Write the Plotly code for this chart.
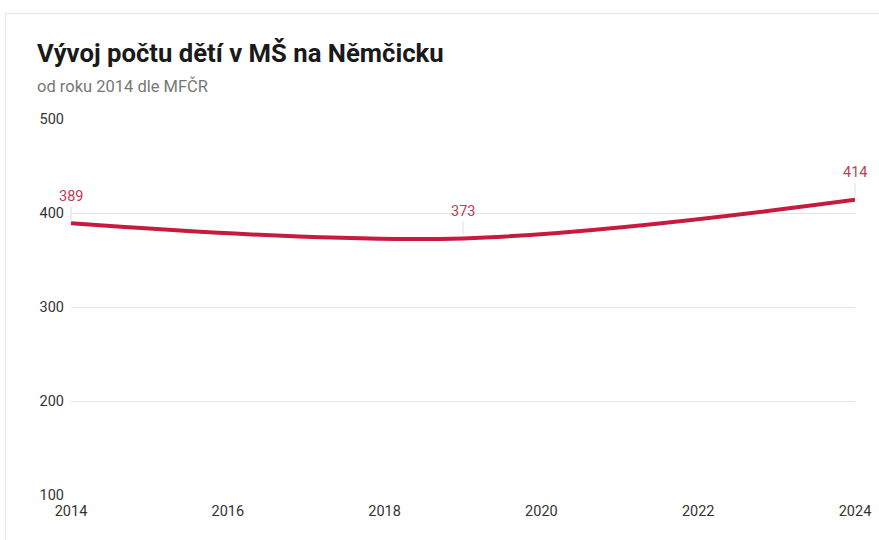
import plotly.graph_objects as go

years = [2014, 2019, 2024]
children = [389, 373, 414]
x_ticks = [2014, 2016, 2018, 2020, 2022, 2024]
y_ticks = [100, 200, 300, 400, 500]

title_text = "Vývoj počtu dětí v MŠ na Němčicku"
subtitle_text = "od roku 2014 dle MFČR"

LINE = "#c8193f"
LABEL = "#c43a57"
FONT = "Roboto, 'Noto Sans', sans-serif"

# plot area in page pixels: x 71..855, y 119..495
W, H = 879, 540
L, R, T, B = 71, 855, 119, 495

fig = go.Figure()
fig.add_trace(go.Scatter(
    x=years, y=children, mode="lines",
    line=dict(color=LINE, width=4, shape="spline", smoothing=1.0),
    hoverinfo="skip", showlegend=False,
))

for xv, yv in zip(years, children):
    fig.add_annotation(
        x=xv, y=yv, xref="x", yref="y", text=str(yv),
        showarrow=True, arrowhead=0, arrowwidth=1, arrowcolor="#dddddd",
        ax=0, ay=-27, standoff=3,
        font=dict(family=FONT, size=14.5, color=LABEL),
    )

def px_x(p):
    return (p - L) / float(R - L)

def px_y(p):
    return (B - p) / float(B - T)

fig.add_annotation(
    xref="paper", yref="paper", x=px_x(35), y=px_y(53), xanchor="left", yanchor="middle",
    text="<b>" + title_text + "</b>", showarrow=False,
    font=dict(family=FONT, size=25.7, color="#1a1a1a"),
)
fig.add_annotation(
    xref="paper", yref="paper", x=px_x(35), y=px_y(86), xanchor="left", yanchor="middle",
    text=subtitle_text, showarrow=False,
    font=dict(family=FONT, size=16.5, color="#777777"),
)

fig.add_shape(
    type="rect", xref="paper", yref="paper",
    x0=px_x(5.5), x1=1.3, y0=-0.5, y1=px_y(13.5),
    line=dict(color="#ebebeb", width=1.5), fillcolor="rgba(0,0,0,0)", layer="below",
)

fig.update_layout(
    width=W, height=H, autosize=False,
    margin=dict(l=L, r=W - R, t=T, b=H - B),
    paper_bgcolor="white", plot_bgcolor="white",
    font=dict(family=FONT, size=14.5, color="#333333"),
    xaxis=dict(
        range=[2014, 2024], tickvals=x_ticks, ticktext=[str(v) for v in x_ticks],
        showgrid=False, zeroline=False, showline=False, ticks="",
        tickfont=dict(family=FONT, size=14.5, color="#333333"), ticklabelstandoff=5,
        fixedrange=True, automargin=False,
    ),
    yaxis=dict(
        range=[100, 500], tickvals=y_ticks, ticktext=[str(v) for v in y_ticks],
        showgrid=True, gridcolor="#e3e3e3", gridwidth=1, zeroline=False, showline=False,
        ticks="", tickfont=dict(family=FONT, size=14.5, color="#333333"),
        ticklabelstandoff=6, fixedrange=True, automargin=False,
    ),
)

fig.write_html(
    "out.html",
    config={"responsive": False, "displayModeBar": False},
    post_script="document.body.style.margin='0';document.body.style.overflow='hidden';",
)
